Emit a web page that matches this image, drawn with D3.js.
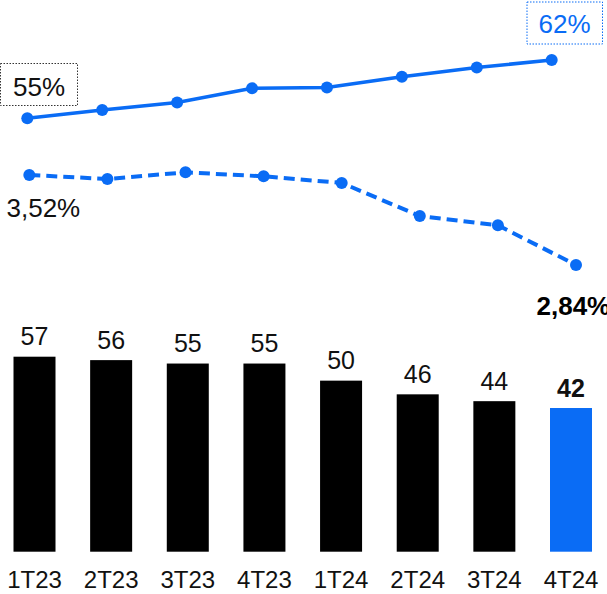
<!DOCTYPE html>
<html>
<head>
<meta charset="utf-8">
<script src="https://cdn.jsdelivr.net/npm/d3@7/dist/d3.min.js"></script>
<style>
  html, body { margin: 0; padding: 0; background: #fff; }
  svg { display: block; font-family: "Liberation Sans", Arial, sans-serif; }
</style>
</head>
<body>
<svg id="chart" width="607" height="594"></svg>
<script>
// Quarters
const quarters = ["1T23", "2T23", "3T23", "4T23", "1T24", "2T24", "3T24", "4T24"];
// Bar series (last quarter highlighted)
const barValues = [57, 56, 55, 55, 50, 46, 44, 42];
// Upper solid line, percent
const solidValues = [55, 56, 56.9, 58.6, 58.7, 60, 61.1, 62];
// Lower dashed line, percent
const dashedValues = [3.52, 3.49, 3.54, 3.51, 3.46, 3.21, 3.14, 2.84];
// Labels shown on the lines
const solidLabels = ["55%", "62%"];
const dashedLabels = ["3,52%", "2,84%"];

const BLUE = "#0a6cf5";
const svg = d3.select("#chart");

// ---- Bars ----
const xBar = d3.scaleBand().domain(quarters).range([13.5, 592]).paddingInner(0.452).paddingOuter(0);
const yBar = d3.scaleLinear().domain([0, 57]).range([551.7, 356.7]);
const last = quarters.length - 1;

svg.append("g").selectAll("rect")
  .data(barValues)
  .join("rect")
  .attr("x", (d, i) => xBar(quarters[i]))
  .attr("y", d => yBar(d))
  .attr("width", xBar.bandwidth())
  .attr("height", d => yBar(0) - yBar(d))
  .attr("fill", (d, i) => i === last ? BLUE : "#000");

svg.append("g").selectAll("text")
  .data(barValues)
  .join("text")
  .attr("x", (d, i) => xBar(quarters[i]) + xBar.bandwidth() / 2)
  .attr("y", d => yBar(d) - 11.5)
  .attr("text-anchor", "middle")
  .attr("font-size", 25)
  .attr("font-weight", (d, i) => i === last ? "bold" : "normal")
  .attr("fill", "#111")
  .text(d => d);

// Category axis (text only)
const xAxis = d3.axisBottom(xBar).tickSize(0).tickPadding(0);
const axisG = svg.append("g").attr("transform", "translate(0,570)").call(xAxis);
axisG.select(".domain").remove();
axisG.selectAll("text")
  .attr("font-size", 24)
  .attr("font-family", "'Liberation Sans', Arial, sans-serif")
  .attr("fill", "#111")
  .attr("dy", "0.75em");

// ---- Solid line ----
const xSolid = d3.scalePoint().domain(quarters).range([27.3, 551.7]);
const ySolid = d3.scaleLinear().domain([55, 62]).range([118.3, 60]);
const solidLine = d3.line().x((d, i) => xSolid(quarters[i])).y(d => ySolid(d));

svg.append("path")
  .datum(solidValues)
  .attr("d", solidLine)
  .attr("fill", "none")
  .attr("stroke", BLUE)
  .attr("stroke-width", 3.5);

svg.append("g").selectAll("circle")
  .data(solidValues)
  .join("circle")
  .attr("cx", (d, i) => xSolid(quarters[i]))
  .attr("cy", d => ySolid(d))
  .attr("r", 6)
  .attr("fill", BLUE);

// ---- Dashed line ----
const xDash = d3.scalePoint().domain(quarters).range([29.3, 576]);
const yDash = d3.scaleLinear().domain([2.84, 3.52]).range([265, 175]);
const dashLine = d3.line().x((d, i) => xDash(quarters[i])).y(d => yDash(d));

svg.append("path")
  .datum(dashedValues)
  .attr("d", dashLine)
  .attr("fill", "none")
  .attr("stroke", BLUE)
  .attr("stroke-width", 4)
  .attr("stroke-dasharray", "11,6");

svg.append("g").selectAll("circle")
  .data(dashedValues)
  .join("circle")
  .attr("cx", (d, i) => xDash(quarters[i]))
  .attr("cy", d => yDash(d))
  .attr("r", 6)
  .attr("fill", BLUE);

// ---- Callout labels ----
// First value of the solid line, boxed with a dotted dark border
svg.append("rect")
  .attr("x", 0.5).attr("y", 63.5).attr("width", 77).attr("height", 42)
  .attr("fill", "#fff").attr("stroke", "#333").attr("stroke-width", 1)
  .attr("stroke-dasharray", "1.5,1.5");
svg.append("text")
  .attr("x", 39).attr("y", ySolid(solidValues[0]) - 22.8)
  .attr("text-anchor", "middle").attr("font-size", 26).attr("fill", "#111")
  .text(solidLabels[0]);

// Last value of the solid line, boxed with a dotted blue border
svg.append("rect")
  .attr("x", 527).attr("y", 2).attr("width", 75.5).attr("height", 42)
  .attr("fill", "#fff").attr("stroke", BLUE).attr("stroke-width", 1)
  .attr("stroke-dasharray", "1.5,1.5");
svg.append("text")
  .attr("x", 564.5).attr("y", ySolid(solidValues[last]) - 26.7)
  .attr("text-anchor", "middle").attr("font-size", 26).attr("fill", BLUE)
  .text(solidLabels[1]);

// Dashed line end labels
svg.append("text")
  .attr("x", 6.5).attr("y", yDash(dashedValues[0]) + 42)
  .attr("font-size", 26).attr("fill", "#111")
  .text(dashedLabels[0]);
svg.append("text")
  .attr("x", 536.5).attr("y", yDash(dashedValues[last]) + 50)
  .attr("font-size", 26).attr("font-weight", "bold").attr("fill", "#000")
  .text(dashedLabels[1]);
</script>
</body>
</html>
